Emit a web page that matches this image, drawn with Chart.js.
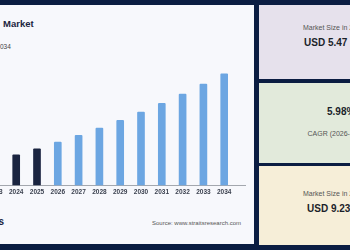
<!DOCTYPE html>
<html>
<head>
<meta charset="utf-8">
<script src="https://cdn.jsdelivr.net/npm/chart.js@4"></script>
<style>
  html, body { margin: 0; padding: 0; }
  body {
    width: 350px; height: 250px; overflow: hidden; position: relative;
    background: #0b1d42; font-family: "Liberation Sans", Arial, sans-serif;
  }
  .panel { position: absolute; left: 0; top: 5px; width: 254px; height: 239px; background: #f7f8fc; overflow: hidden; }
  .card { position: absolute; left: 259px; width: 120px; }
  .c1 { top: 5px; height: 74px; background: #e6e1ec; }
  .c2 { top: 83px; height: 80px; background: #e2eadb; }
  .c3 { top: 166px; height: 79px; background: #f6eed8; }
  .t { position: absolute; white-space: nowrap; line-height: 1; }
  .small { font-size: 7px; color: #555; }
  .big { font-size: 10px; font-weight: bold; color: #1b1f2a; }
  #wrap { position: absolute; left: -15px; top: 61px; }
</style>
</head>
<body>
<div class="panel">
  <div class="t" style="left:3px;top:14px;font-size:9.5px;font-weight:bold;color:#1b2540;">Market</div>
  <div class="t" style="left:-3.7px;top:39px;font-size:6.5px;color:#444;">2034</div>
  <div id="wrap"><canvas id="barChart" width="263" height="133"></canvas></div>
  <div class="t" style="left:-60px;width:64px;text-align:right;top:212px;font-size:10px;font-weight:bold;color:#1b2540;">Insights</div>
  <div class="t" style="left:152px;top:215px;font-size:6px;color:#555;">Source: www.straitsresearch.com</div>
</div>

<div class="card c1">
  <div class="t small" style="left:44px;top:19px;">Market Size in 2025</div>
  <div class="t big" style="left:45px;top:33px;">USD 5.47 Billion</div>
</div>
<div class="card c2">
  <div class="t big" style="left:68px;top:24px;">5.98%</div>
  <div class="t small" style="left:48.5px;top:47px;">CAGR (2026-2034)</div>
</div>
<div class="card c3">
  <div class="t small" style="left:44px;top:24px;">Market Size in 2034</div>
  <div class="t big" style="left:48px;top:38px;">USD 9.23 Billion</div>
</div>

<script>
// years shown on the axis, and market size (USD billion)
const years = [2023, 2024, 2025, 2026, 2027, 2028, 2029, 2030, 2031, 2032, 2033, 2034];
const marketSize = [4.87, 5.16, 5.47, 5.80, 6.14, 6.51, 6.90, 7.31, 7.75, 8.21, 8.71, 9.23];
const lastActualYear = 2025;

const historicColor = '#1a2440';
const forecastColor = '#6ca6e2';

const points = years.map((y, i) => ({ x: y, y: marketSize[i] }));
const barColors = years.map(y => y <= lastActualYear ? historicColor : forecastColor);

new Chart(document.getElementById('barChart'), {
    type: 'bar',
    data: {
        datasets: [{
            data: points,
            backgroundColor: barColors,
            barThickness: 7,
            borderRadius: { topLeft: 1, topRight: 1 },
            borderSkipped: 'bottom'
        }]
    },
    options: {
        responsive: false,
        animation: false,
        layout: { padding: 0 },
        plugins: { legend: { display: false }, tooltip: { enabled: false } },
        scales: {
            x: {
                type: 'linear',
                offset: false,
                min: 2022.5,
                max: 2035,
                grid: { display: false, drawTicks: false },
                border: { display: true, color: '#a3a7ae', width: 1 },
                ticks: {
                    stepSize: 1,
                    includeBounds: false,
                    autoSkip: false,
                    maxRotation: 0,
                    padding: 3,
                    color: '#3c4250',
                    font: { family: 'Liberation Sans', size: 6.5, weight: 'bold' },
                    callback: v => years.includes(v) ? String(v) : ''
                }
            },
            y: {
                display: false,
                min: 3.64,
                max: 9.62
            }
        }
    }
});
</script>
</body>
</html>
